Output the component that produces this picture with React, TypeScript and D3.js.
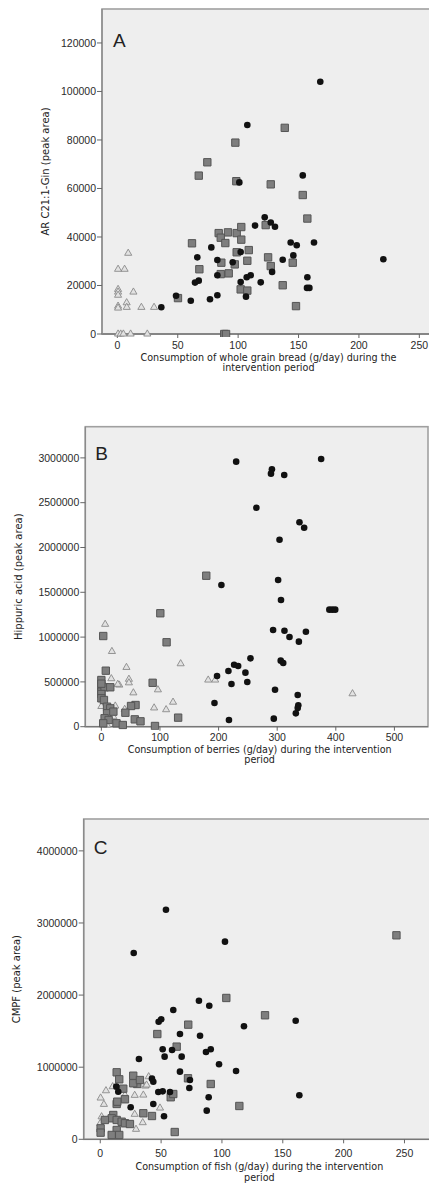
import React from "react";
import * as d3 from "d3";

// ---------- Panel A: whole grain bread vs AR C21:1-Gln ----------
const aCircles: [number, number][] = [
  [168, 104000], [107.6, 86200], [153.5, 65400], [101, 62500], [122, 48100], [127, 46000],
  [130.5, 44200], [114, 44700], [77.8, 35700], [143.5, 37700], [148.5, 36600], [162.8, 37700],
  [102.1, 33800], [66.2, 31600], [145.7, 32400], [82.8, 30500], [136.9, 30600], [220.2, 30800],
  [95.5, 29600], [128.1, 25600], [82.8, 24200], [110.4, 24200], [107.1, 23400], [157.3, 23400],
  [102.1, 21400], [67.4, 22000], [64.3, 21200], [118.7, 21300], [157, 19000], [159, 19000],
  [106.5, 15400], [82.8, 16000], [76.7, 14300], [48.6, 15800], [60.8, 13700], [36.4, 11000],
];
const aSquares: [number, number][] = [
  [138.6, 85000], [97.7, 78900], [74.5, 70800], [67.4, 65300], [98.5, 63000], [127, 61700],
  [153.5, 57300], [157.3, 47600], [122.8, 44900], [91.6, 41900], [83.9, 41600], [85.6, 39700],
  [89.4, 37500], [98.8, 41600], [102.6, 44100], [102.6, 38900], [61.8, 37400], [108.8, 34600],
  [98.8, 33700], [124.8, 31600], [107.6, 30200], [86.1, 29400], [97.2, 28700], [127, 28000],
  [145.2, 29400], [67.9, 26700], [92.2, 25000], [85.6, 24700], [102.1, 18400], [107.6, 17900],
  [136.9, 20100], [50.2, 14800], [147.9, 11500], [88.5, 0], [90, 0],
];
const aTriangles: [number, number][] = [
  [9, 33300], [0.6, 26700], [6, 26700], [0.6, 18400], [0.6, 17300], [13.3, 17300],
  [0.6, 11500], [0.6, 10700], [7.7, 12900], [7.8, 11000], [19.9, 11000], [30.4, 11000],
  [0.6, 0], [2.8, 0], [5, 0], [11, 0], [24.8, 0], [0.6, 16000],
];
const aXTicks = [0, 50, 100, 150, 200, 250];
const aYTicks = [0, 20000, 40000, 60000, 80000, 100000, 120000];

// ---------- Panel B: berries vs hippuric acid ----------
const bCircles: [number, number][] = [
  [230, 2958000], [291, 2873000], [289.4, 2824000], [312, 2809000], [375, 2988000],
  [264.5, 2444000], [338, 2281000], [346, 2221000], [304, 2087000], [204.8, 1581000],
  [301.6, 1637000], [306.5, 1414000], [389, 1306000], [394, 1306000], [399, 1306000],
  [293, 1079000], [312.4, 1071000], [321, 1001000], [349, 1060000], [337, 949000],
  [254.4, 763000], [306, 737000], [310.3, 711000], [226.5, 692000], [233.4, 677000],
  [216.8, 621000], [245.8, 603000], [197.4, 566000], [222, 477000], [249, 499000],
  [296.3, 413000], [335, 354000], [193, 264000], [336, 239000], [335, 209000],
  [331.8, 149000], [217.7, 75000], [294.2, 90000],
];
const bSquares: [number, number][] = [
  [179, 1685000], [100.6, 1266000], [3.2, 1012000], [111.3, 942000], [7.6, 625000],
  [87.5, 490000], [0, 521000], [0, 454000], [0, 391000], [5.5, 440000], [15.2, 440000],
  [0, 365000], [0, 317000], [131, 101000], [91.5, 8000], [58.3, 242000], [50.6, 231000],
  [41, 156000], [57, 82000], [66.8, 60000], [25.8, 38000], [36.6, 19000], [4.4, 298000],
  [9.7, 223000], [15.2, 205000], [9.7, 150000], [5.5, 94000], [12.4, 75000], [20.5, 168000],
  [3.2, 38000], [0, 480000],
];
const bTriangles: [number, number][] = [
  [6.5, 1143000], [18, 840000], [42.8, 662000], [135.3, 703000], [17, 536000], [47, 530000],
  [47, 490000], [182.3, 521000], [194.2, 521000], [96.5, 412000], [54.6, 378000],
  [428.5, 368000], [122.3, 274000], [90, 210000], [110.5, 190000], [39.8, 194000],
  [30.6, 465000], [28, 473000], [0, 305000], [0, 226000], [23.7, 231000], [20.5, 112000],
  [9.7, 19000],
];
const bXTicks = [0, 100, 200, 300, 400, 500];
const bYTicks = [0, 500000, 1000000, 1500000, 2000000, 2500000, 3000000];

// ---------- Panel C: fish vs CMPF ----------
const cCircles: [number, number][] = [
  [54, 3184000], [27.5, 2584000], [102.5, 2741000], [81.1, 1922000], [89.6, 1853000],
  [60, 1793000], [160.6, 1645000], [48, 1631000], [50.1, 1664000], [118.1, 1567000],
  [65.5, 1460000], [82, 1437000], [51.3, 1248000], [59, 1239000], [90.8, 1248000],
  [86.9, 1211000], [52.9, 1146000], [66.9, 1146000], [31.8, 1114000], [97.6, 1040000],
  [111.6, 947000], [65.5, 938000], [42.5, 841000], [43.6, 799000], [73.7, 822000],
  [73.2, 711000], [13.2, 730000], [47.7, 656000], [51.3, 665000], [57.3, 656000],
  [89.1, 583000], [163.6, 610000], [43.6, 490000], [25, 444000], [87.5, 397000],
  [52.4, 319000], [14.8, 660000],
];
const cSquares: [number, number][] = [
  [243.4, 2829000], [103.6, 1960000], [135.4, 1720000], [72.3, 1590000], [46.9, 1460000],
  [62.8, 1285000], [13.5, 929000], [27.1, 882000], [72.1, 846000], [15.6, 832000],
  [30.4, 767000], [90.8, 767000], [18.9, 702000], [57.9, 583000], [20.3, 555000],
  [13.5, 490000], [114.3, 462000], [35.4, 361000], [42.5, 323000], [61.2, 101000],
  [27.1, 777000], [32.6, 822000], [14, 522000], [10.7, 337000], [9.4, 291000],
  [13.5, 268000], [17.6, 244000], [20.3, 222000], [24.4, 212000], [60, 628000],
  [13.5, 129000], [9.4, 60000], [15.6, 60000], [0.3, 152000], [0.3, 92000], [3.8, 268000],
];
const cTriangles: [number, number][] = [
  [39.8, 868000], [37, 739000], [10.2, 730000], [4.7, 674000], [28.3, 610000], [0.3, 573000],
  [3, 485000], [49.1, 434000], [28.3, 347000], [34.9, 231000], [29.4, 139000], [20.3, 614000],
  [35.4, 614000], [38.1, 753000], [1.1, 313000], [0, 222000],
];
const cXTicks = [0, 50, 100, 150, 200, 250];
const cYTicks = [0, 1000000, 2000000, 3000000, 4000000];

type PanelCfg = {
  letter: string;
  left: number; right: number; top: number; bottom: number;
  xDomain: [number, number]; yDomain: [number, number];
  xTicks: number[]; yTicks: number[];
  circles: [number, number][]; squares: [number, number][]; triangles: [number, number][];
  yLabel: string; yLabelX: number;
  xLabel: string[]; tickDy: number; titleDy: number[];
  letterDy: number; letterDx: number;
};

const panels: PanelCfg[] = [
  {
    letter: "A", left: 102, right: 436, top: 9, bottom: 334,
    xDomain: [-12.7, 263.8], yDomain: [0, 134000], xTicks: aXTicks, yTicks: aYTicks,
    circles: aCircles, squares: aSquares, triangles: aTriangles,
    yLabel: "AR C21:1-Gin (peak area)", yLabelX: 45,
    xLabel: ["Consumption of whole grain bread (g/day) during the", "intervention period"],
    tickDy: 14.5, titleDy: [26.5, 36.5], letterDy: 38, letterDx: 11,
  },
  {
    letter: "B", left: 85.3, right: 428, top: 426.7, bottom: 726.7,
    xDomain: [-27.4, 557.3], yDomain: [0, 3348000], xTicks: bXTicks, yTicks: bYTicks,
    circles: bCircles, squares: bSquares, triangles: bTriangles,
    yLabel: "Hippuric acid (peak area)", yLabelX: 18,
    xLabel: ["Consumption of berries (g/day) during the intervention", "period"],
    tickDy: 14.5, titleDy: [26.5, 36.5], letterDy: 33, letterDx: 10,
  },
  {
    letter: "C", left: 83.7, right: 436, top: 819, bottom: 1139.3,
    xDomain: [-13.6, 275.9], yDomain: [0, 4442000], xTicks: cXTicks, yTicks: cYTicks,
    circles: cCircles, squares: cSquares, triangles: cTriangles,
    yLabel: "CMPF (peak area)", yLabelX: 16,
    xLabel: ["Consumption of fish (g/day) during the intervention", "period"],
    tickDy: 17.5, titleDy: [30.5, 42], letterDy: 35, letterDx: 10,
  },
];

const FONT = "'Liberation Sans', Arial, sans-serif";
const FONT_WIDE = "'DejaVu Sans', Verdana, sans-serif";
const squarePath = d3.symbol().type(d3.symbolSquare).size(54)() as string;
const trianglePath = d3.symbol().type(d3.symbolTriangle).size(22)() as string;

function Panel({ p }: { p: PanelCfg }) {
  const x = d3.scaleLinear().domain(p.xDomain).range([p.left, p.right]);
  const y = d3.scaleLinear().domain(p.yDomain).range([p.bottom, p.top]);
  const midX = (p.left + Math.min(p.right, 429)) / 2 + 3;
  const midY = (p.top + p.bottom) / 2;
  const clipId = `clip-${p.letter}`;
  return (
    <g>
      <defs>
        <clipPath id={clipId}>
          <rect x={p.left} y={p.top - 3} width={p.right - p.left + 3} height={p.bottom - p.top + 6} />
        </clipPath>
      </defs>
      <rect x={p.left} y={p.top} width={p.right - p.left} height={p.bottom - p.top}
        fill="#eeeeee" stroke="#a0a0a0" strokeWidth={1.6} />
      <line x1={p.left} x2={p.right} y1={p.bottom} y2={p.bottom} stroke="#777" strokeWidth={1.3} />
      <line x1={p.left} x2={p.left} y1={p.top} y2={p.bottom} stroke="#8a8a8a" strokeWidth={1.3} />
      {p.yTicks.map((t) => (
        <g key={`y${t}`}>
          <line x1={p.left - 5} x2={p.left} y1={y(t)} y2={y(t)} stroke="#666" strokeWidth={1} />
          <text x={p.left - 6} y={y(t)} dy="0.35em" textAnchor="end" fontFamily={FONT}
            fontSize={10.5} fill="#2a2a2a">{t}</text>
        </g>
      ))}
      {p.xTicks.map((t) => (
        <g key={`x${t}`}>
          <line x1={x(t)} x2={x(t)} y1={p.bottom} y2={p.bottom + 4} stroke="#666" strokeWidth={1} />
          <text x={x(t)} y={p.bottom + p.tickDy} textAnchor="middle" fontFamily={FONT}
            fontSize={10.5} fill="#2a2a2a">{t}</text>
        </g>
      ))}
      <text x={p.left + p.letterDx} y={p.top + p.letterDy} fontFamily={FONT} fontSize={19}
        fill="#222">{p.letter}</text>
      <g clipPath={`url(#${clipId})`}>
        {p.triangles.map((d, i) => (
          <path key={`t${i}`} d={trianglePath} transform={`translate(${x(d[0])},${y(d[1])})`}
            fill="#e2e2e2" stroke="#8a8a8a" strokeWidth={0.9} />
        ))}
        {p.squares.map((d, i) => (
          <path key={`s${i}`} d={squarePath} transform={`translate(${x(d[0])},${y(d[1])})`}
            fill="#7e7e7e" stroke="#555" strokeWidth={1} />
        ))}
        {p.circles.map((d, i) => (
          <circle key={`c${i}`} cx={x(d[0])} cy={y(d[1])} r={3.3} fill="#111" />
        ))}
      </g>
      <text transform={`translate(${p.yLabelX},${midY}) rotate(-90)`} textAnchor="middle"
        dy="0.35em" fontFamily={FONT_WIDE} fontSize={10} fill="#222">{p.yLabel}</text>
      {p.xLabel.map((line, i) => (
        <text key={`xl${i}`} x={midX} y={p.bottom + p.titleDy[i]} textAnchor="middle"
          fontFamily={FONT_WIDE} fontSize={9.6} fill="#222">{line}</text>
      ))}
    </g>
  );
}

export default function App() {
  return (
    <svg width={429} height={1193} style={{ position: "absolute", left: 0, top: 0, background: "#fff" }}>
      <rect x={0} y={0} width={429} height={1193} fill="#fff" />
      {panels.map((p) => (
        <Panel key={p.letter} p={p} />
      ))}
    </svg>
  );
}
